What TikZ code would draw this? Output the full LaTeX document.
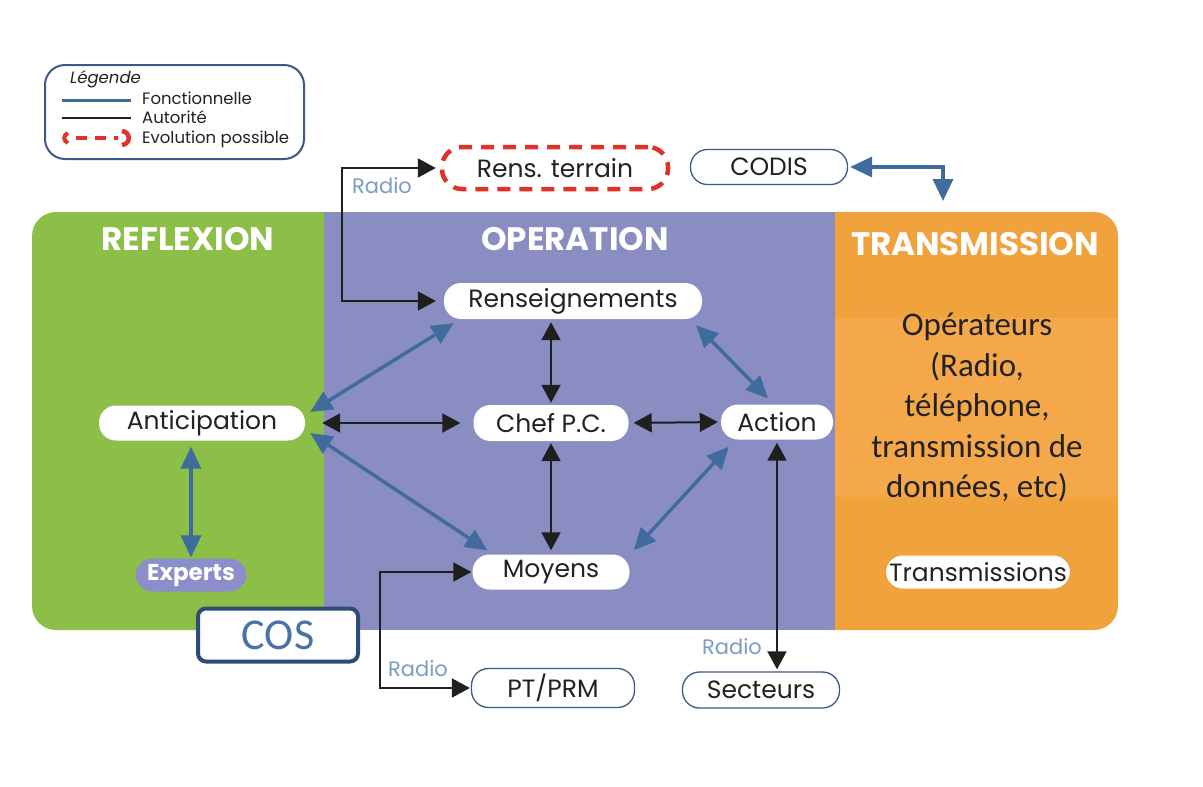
\documentclass[tikz,border=0pt]{standalone}
\usepackage{fontspec}
\setmainfont{Poppins}
\newfontfamily\calibfont{Carlito}
\usepackage{xcolor}
\usetikzlibrary{arrows.meta}

\definecolor{reflexgreen}{HTML}{8CBF48}
\definecolor{operpurple}{HTML}{8A8DC1}
\definecolor{transorange}{HTML}{F0A33C}
\definecolor{transband}{HTML}{F4A849}
\definecolor{fonctblue}{HTML}{3F6B9E}
\definecolor{frameblue}{HTML}{3C5A84}
\definecolor{cosblue}{HTML}{2F4C77}
\definecolor{costext}{HTML}{4A72A8}
\definecolor{radioblue}{HTML}{7C9CC6}
\definecolor{evolred}{HTML}{E0322B}
\definecolor{expertpurple}{HTML}{8C8ECB}
\definecolor{labeltext}{HTML}{222222}

\tikzset{
  pill/.style={fill=white, rounded corners=17pt, minimum height=35pt, inner sep=0pt,
    text=labeltext, font=\fontsize{25}{29}\selectfont},
  outpill/.style={pill, draw=frameblue, line width=1.3pt},
  evolpill/.style={pill, draw=evolred, line width=4.5pt, dash pattern=on 13pt off 9pt, rounded corners=20pt},
  fonct/.style={{Triangle[length=22pt,width=20pt]}-{Triangle[length=22pt,width=20pt]}, draw=fonctblue, line width=3.5pt},
  autor/.style={{Triangle[length=18pt,width=19pt]}-{Triangle[length=18pt,width=19pt]}, draw=black!88, line width=2pt},
  titre/.style={text=white, font=\fontsize{32.5}{37}\selectfont\bfseries},
  radio/.style={text=radioblue, font=\fontsize{21}{25}\selectfont},
  legtext/.style={anchor=west, text=labeltext, font=\fontsize{16.5}{19}\selectfont, inner sep=0pt}
}

\begin{document}
\begin{tikzpicture}[x=1pt, y=-1pt]
    \fill[white] (0,0) rectangle (1203,787);
    \useasboundingbox (0,0) rectangle (1203,787);

    \fill[reflexgreen, rounded corners=24pt] (32,212) rectangle (360,630);
    \fill[transorange, rounded corners=24pt] (800,212) rectangle (1118,630);
    \fill[transband] (835,318) rectangle (1118,497);
    \fill[operpurple] (324,212) rectangle (835,630);

    \draw[frameblue, line width=2pt, rounded corners=20pt] (45,65) rectangle (304,159);
    \node[legtext, font=\fontsize{16.5}{19}\selectfont\itshape] (leg-titre) at (70,79) {Légende};
    \draw[fonctblue, line width=3pt] (62,100) -- (131,100);
    \draw[black!88, line width=1.5pt] (62,118) -- (131,118);
    \draw[evolred, line width=4.5pt, dash pattern=on 11pt off 8pt] (76,138) -- (118,138);
    \draw[evolred, line width=4pt] (68,133) .. controls (63,135) and (63,141) .. (68,143);
    \draw[evolred, line width=4.5pt] (122,131) .. controls (131,132) and (131,144) .. (122,145);
    \foreach \l/\y in {Fonctionnelle/98, Autorité/117, Evolution possible/139}
      \node[legtext] (leg-\y) at (142,\y) {\l};

    \foreach \l/\x/\y in {REFLEXION/188/239, OPERATION/575/239, TRANSMISSION/975/244}
      \node[titre] (titre-\l) at (\x,\y) {\l};

    \node[pill, minimum width=258pt, minimum height=36pt] (rens) at (573,301) {Renseignements};
    \node[pill, minimum width=155pt, minimum height=36pt] (chef) at (551,423) {Chef P.C.};
    \node[pill, minimum width=112pt] (action) at (777,422) {Action};
    \node[pill, minimum width=206pt] (antic) at (202,423) {Anticipation};
    \node[pill, minimum width=157pt] (moyens) at (551,572) {Moyens};
    \node[pill, fill=expertpurple, text=white, minimum width=111pt, minimum height=33pt,
      font=\fontsize{23}{27}\selectfont\bfseries] (experts) at (191,575) {Experts};
    \node[pill, minimum width=184pt, minimum height=33pt] (transm) at (978,572) {Transmissions};
    \node[evolpill, minimum width=226pt, minimum height=42pt] (terrain) at (555,168) {Rens. terrain};
    \node[outpill, minimum width=157pt] (codis) at (769,167) {CODIS};
    \node[outpill, minimum width=163pt, minimum height=39pt] (ptprm) at (553,688) {PT/PRM};
    \node[outpill, minimum width=157pt, minimum height=36pt] (secteurs) at (761,690) {Secteurs};
    \node[draw=cosblue, line width=4pt, fill=white, rounded corners=8pt, minimum width=160pt,
      minimum height=53pt, text=costext, font=\calibfont\fontsize{44}{50}\selectfont] (cos) at (278,635) {COS};
    \node[align=center, text=labeltext, font=\calibfont\fontsize{33}{40.5}\selectfont] (operateurs)
      at (977,408) {Opérateurs\\(Radio,\\téléphone,\\transmission de\\données, etc)};

    \foreach \x/\y [count=\i] in {382/186, 418/669, 732/647}
      \node[radio] (radio-\i) at (\x,\y) {Radio};

    \draw[fonct] ([shift={(5,-11)}]antic.east) -- ([shift={(10,4)}]rens.south west);
    \draw[fonct] ([shift={(5,10)}]antic.east) -- ([shift={(15,-4)}]moyens.north west);
    \draw[fonct] ([shift={(-6,6)}]rens.south east) -- ([shift={(-9,-6)}]action.north);
    \draw[fonct] ([shift={(4,-4)}]moyens.north east) -- ([shift={(8,7)}]action.south west);
    \draw[fonct, shorten <=6pt, shorten >=1pt] (antic.south -| experts.north) -- (experts.north);
    \coordinate (transm-top) at (943,201);
    \draw[fonct, shorten <=2pt] (codis.east) -| (transm-top);

    \draw[autor, shorten <=17pt, shorten >=13pt] (antic.east) -- (chef.west);
    \draw[autor, shorten <=5pt, shorten >=3pt] (chef.east) -- (action.west);
    \draw[autor, shorten <=3pt, shorten >=2pt] (chef.north |- rens.south) -- (chef.north);
    \draw[autor, shorten <=2pt, shorten >=4pt] (chef.south) -- (moyens.north);
    \draw[autor, shorten <=3pt, shorten >=2pt] (action.south) -- (action.south |- secteurs.north);
    \draw[autor, shorten <=4pt, shorten >=8pt] (terrain.west) -- ++(-98,0) |- (rens.west);
    \draw[autor, shorten <=1pt, shorten >=1pt] (moyens.west) -- ++(-92,0) |- (ptprm.west);
\end{tikzpicture}
\end{document}
